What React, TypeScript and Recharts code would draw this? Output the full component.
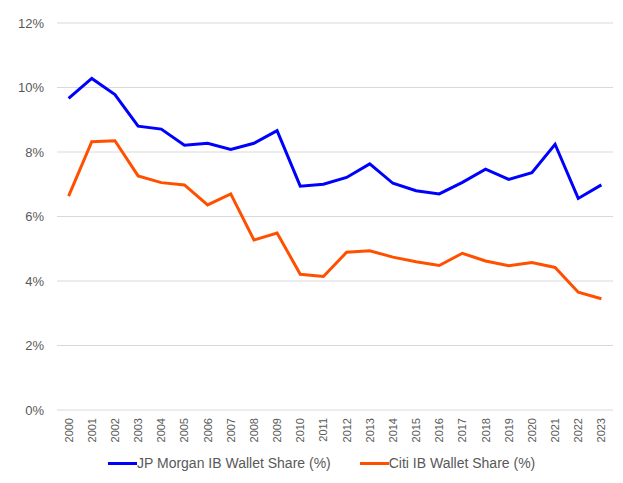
import { LineChart, Line, XAxis, YAxis, CartesianGrid, Legend } from 'recharts';

const years = [
  '2000', '2001', '2002', '2003', '2004', '2005', '2006', '2007', '2008', '2009', '2010', '2011',
  '2012', '2013', '2014', '2015', '2016', '2017', '2018', '2019', '2020', '2021', '2022', '2023',
];

const jpMorganShare = [
  9.66, 10.28, 9.78, 8.8, 8.71, 8.21, 8.27, 8.08, 8.27, 8.66, 6.94, 7.0,
  7.21, 7.63, 7.03, 6.8, 6.7, 7.06, 7.47, 7.15, 7.36, 8.24, 6.56, 6.98,
];

const citiShare = [
  6.63, 8.32, 8.35, 7.26, 7.05, 6.98, 6.36, 6.7, 5.27, 5.49, 4.21, 4.14,
  4.89, 4.94, 4.74, 4.6, 4.48, 4.86, 4.62, 4.47, 4.57, 4.42, 3.65, 3.45,
];

const yTicks = [0, 2, 4, 6, 8, 10, 12];

const data = years.map((year, i) => ({
  year,
  jpm: jpMorganShare[i],
  citi: citiShare[i],
}));

const series = [
  { key: 'jpm', name: 'JP Morgan IB Wallet Share (%)', color: '#0000ff' },
  { key: 'citi', name: 'Citi IB Wallet Share (%)', color: '#ff5000' },
];

const FONT = '"Liberation Sans", Arial, sans-serif';
const TEXT = '#595959';

const YearTick = ({ x, y, payload }: any) => (
  <g transform={`translate(${x},${y})`}>
    <text
      x={0}
      y={0}
      dy={4}
      transform="rotate(-90)"
      textAnchor="end"
      fontSize={11}
      fontFamily={FONT}
      fill={TEXT}
    >
      {payload.value}
    </text>
  </g>
);

// keep the legend in series order (recharts sorts the payload by name)
const LegendContent = () => (
  <div style={{ display: 'flex', alignItems: 'center', paddingLeft: 108, height: 20, fontFamily: FONT, fontSize: 14, color: TEXT }}>
    {series.map((s) => (
      <div key={s.key} style={{ display: 'flex', alignItems: 'center', marginRight: 29 }}>
        <span style={{ display: 'inline-block', width: 29, height: 3, background: s.color }} />
        <span>{s.name}</span>
      </div>
    ))}
  </div>
);

export default function App() {
  return (
    <div style={{ position: 'fixed', left: 0, top: 0, background: '#fff' }}>
      <LineChart width={623} height={483} data={data} margin={{ top: 23, right: 10, left: 0, bottom: 0 }}>
        <CartesianGrid vertical={false} stroke="#d9d9d9" />
        <XAxis
          dataKey="year"
          interval={0}
          axisLine={false}
          tickLine={false}
          tickSize={0}
          tickMargin={8}
          height={43}
          padding={{ left: 11.6, right: 11.6 }}
          tick={<YearTick />}
        />
        <YAxis
          domain={[0, 12]}
          ticks={yTicks}
          tickFormatter={(v) => `${v}%`}
          axisLine={false}
          tickLine={false}
          tickSize={0}
          tickMargin={13}
          width={57}
          tick={{ fontSize: 13, fontFamily: FONT, fill: TEXT }}
        />
        <Legend verticalAlign="bottom" align="left" height={30} content={<LegendContent />} />
        {series.map((s) => (
          <Line
            key={s.key}
            type="linear"
            dataKey={s.key}
            name={s.name}
            stroke={s.color}
            strokeWidth={3}
            dot={false}
            isAnimationActive={false}
          />
        ))}
      </LineChart>
    </div>
  );
}
